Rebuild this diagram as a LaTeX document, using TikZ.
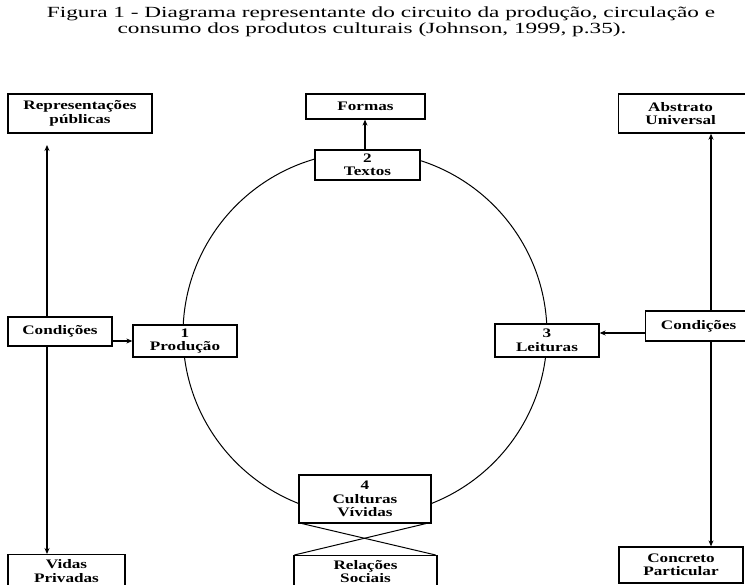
\documentclass[tikz,border=0pt]{standalone}
\usepackage{fontspec}
\setmainfont{Liberation Serif}[FakeStretch=1.32]
\newfontfamily\titlefont{Liberation Serif}[FakeStretch=1.5]
\usetikzlibrary{arrows.meta,calc}
\begin{document}
\begin{tikzpicture}[x=1pt,y=-1pt,
  box/.style={draw, line width=1.3pt, fill=white, inner sep=0pt, align=center,
    font=\bfseries\fontsize{13}{13.5}\selectfont},
  conn/.style={line width=1.1pt, -{Stealth[length=6pt,width=5pt]}},
  ttl/.style={inner sep=0pt, anchor=base, font=\titlefont\fontsize{15.5}{17}\selectfont}]
\useasboundingbox (0,0) rectangle (745,585);
% title
\node[ttl] (t1) at (381,18) {Figura 1 - Diagrama representante do circuito da produção, circulação e};
\node[ttl] (t2) at (372,34) {consumo dos produtos culturais (Johnson, 1999, p.35).};
% circle
\draw[line width=1pt] (365,334) circle[radius=182];
% boxes
\node[box, minimum width=144pt, minimum height=39pt] (rp) at (80,113.5) {Representações\\públicas};
\node[box, minimum width=119pt, minimum height=25pt] (fo) at (365.5,106.5) {Formas};
\node[box, minimum width=128pt, minimum height=39pt, anchor=west] (au) at (618,113.5) {\hspace*{-4pt}Abstrato\\\hspace*{-4pt}Universal};
\node[box, minimum width=105pt, minimum height=30pt] (tx) at (367.5,165) {2\\Textos};
\node[box, minimum width=104pt, minimum height=29pt] (cl) at (60,331.5) {Condições};
\node[box, minimum width=104pt, minimum height=32pt] (pr) at (185,341) {1\\Produção};
\node[box, minimum width=104pt, minimum height=33pt] (le) at (547,340.5) {3\\Leituras};
\node[box, minimum width=106pt, minimum height=30pt, anchor=west] (cr) at (645,326) {Condições};
\node[box, minimum width=132pt, minimum height=48pt] (cu) at (365,499) {4\\Culturas\\Vívidas};
\node[box, minimum width=143pt, minimum height=32pt, anchor=north] (rs) at (365.5,555) {Relações\\Sociais};
\node[box, minimum width=117pt, minimum height=33pt, anchor=north] (vp) at (66.5,554) {Vidas\\Privadas};
\node[box, minimum width=124pt, minimum height=36pt] (cp) at (681,565) {Concreto\\Particular};
% connector end points
\coordinate (lup) at (47,145);
\coordinate (rup) at (711,133.7);
% left vertical
\draw[conn] (47,317) -- (lup);
\draw[conn] (47,346) -- (vp.north -| 47,0);
% right vertical
\draw[conn] (cr.north -| rup) -- (rup);
\draw[conn] (cr.south -| rup) -- (cp.north -| rup);
% horizontal
\draw[conn] (cl.east |- pr.center) -- (pr.west);
\draw[conn] (cr.west |- 0,333) -- (le.east |- 0,333);
% formas
\draw[conn] (tx.north -| 365,0) -- (fo.south -| 365,0);
% cross
\draw[line width=1pt] ($(cu.south west)+(4,0)$) -- ($(rs.north east)+(-2,0)$);
\draw[line width=1pt] ($(cu.south east)+(-6,0)$) -- ($(rs.north west)+(1,0)$);
\end{tikzpicture}
\end{document}
